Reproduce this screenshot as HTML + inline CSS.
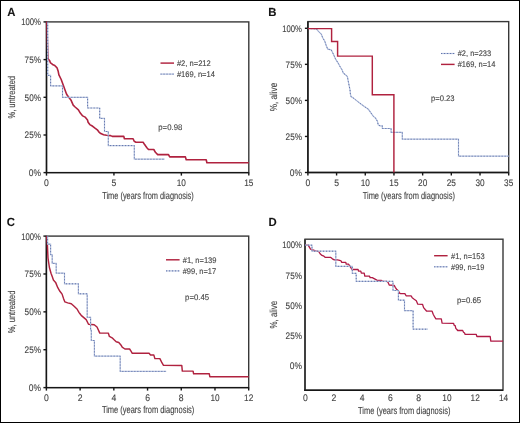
<!DOCTYPE html>
<html><head><meta charset="utf-8"><style>
html,body{margin:0;padding:0;background:#fff;}
svg{display:block;will-change:transform;}
text{font-family:"Liberation Sans", sans-serif;text-rendering:geometricPrecision;stroke:#444;stroke-width:0.12px;}
</style></head><body>
<svg width="520" height="423" viewBox="0 0 520 423">
<rect x="0" y="0" width="520" height="423" fill="#fff"/>
<rect x="0.5" y="0.5" width="519" height="422" fill="none" stroke="#000" stroke-width="1"/>
<text x="7.2" y="15.6" font-size="11.8" text-anchor="start" fill="#111" font-weight="bold" textLength="8.2" lengthAdjust="spacingAndGlyphs" >A</text>
<rect x="46.5" y="21.9" width="202.3" height="150.7" fill="none" stroke="#383838" stroke-width="1.4"/>
<path d="M46.5,21.9 V172.6 H248.8" fill="none" stroke="#161616" stroke-width="1.4"/>
<line x1="43.5" y1="21.9" x2="46.5" y2="21.9" stroke="#161616" stroke-width="1.4"/>
<text x="41" y="25.299999999999997" font-size="9.5" text-anchor="end" fill="#444444" font-weight="normal" textLength="19.8" lengthAdjust="spacingAndGlyphs" >100%</text>
<line x1="43.5" y1="59.6" x2="46.5" y2="59.6" stroke="#161616" stroke-width="1.4"/>
<text x="41" y="63.0" font-size="9.5" text-anchor="end" fill="#444444" font-weight="normal" textLength="16.4" lengthAdjust="spacingAndGlyphs" >75%</text>
<line x1="43.5" y1="97.3" x2="46.5" y2="97.3" stroke="#161616" stroke-width="1.4"/>
<text x="41" y="100.7" font-size="9.5" text-anchor="end" fill="#444444" font-weight="normal" textLength="16.4" lengthAdjust="spacingAndGlyphs" >50%</text>
<line x1="43.5" y1="135.0" x2="46.5" y2="135.0" stroke="#161616" stroke-width="1.4"/>
<text x="41" y="138.4" font-size="9.5" text-anchor="end" fill="#444444" font-weight="normal" textLength="16.4" lengthAdjust="spacingAndGlyphs" >25%</text>
<line x1="43.5" y1="172.6" x2="46.5" y2="172.6" stroke="#161616" stroke-width="1.4"/>
<text x="41" y="176.0" font-size="9.5" text-anchor="end" fill="#444444" font-weight="normal" textLength="12.2" lengthAdjust="spacingAndGlyphs" >0%</text>
<line x1="46.5" y1="172.6" x2="46.5" y2="175.6" stroke="#161616" stroke-width="1.4"/>
<text x="46.5" y="185.9" font-size="9.5" text-anchor="middle" fill="#444444" font-weight="normal" textLength="4.8" lengthAdjust="spacingAndGlyphs" >0</text>
<line x1="113.93333333333334" y1="172.6" x2="113.93333333333334" y2="175.6" stroke="#161616" stroke-width="1.4"/>
<text x="113.93333333333334" y="185.9" font-size="9.5" text-anchor="middle" fill="#444444" font-weight="normal" textLength="4.8" lengthAdjust="spacingAndGlyphs" >5</text>
<line x1="181.36666666666667" y1="172.6" x2="181.36666666666667" y2="175.6" stroke="#161616" stroke-width="1.4"/>
<text x="181.36666666666667" y="185.9" font-size="9.5" text-anchor="middle" fill="#444444" font-weight="normal" textLength="9.2" lengthAdjust="spacingAndGlyphs" >10</text>
<line x1="248.8" y1="172.6" x2="248.8" y2="175.6" stroke="#161616" stroke-width="1.4"/>
<text x="248.8" y="185.9" font-size="9.5" text-anchor="middle" fill="#444444" font-weight="normal" textLength="9.2" lengthAdjust="spacingAndGlyphs" >15</text>
<text x="0" y="0" font-size="9.9" text-anchor="middle" fill="#444444" textLength="42.5" lengthAdjust="spacingAndGlyphs" transform="translate(15.2,97.25) rotate(-90)">%, untreated</text>
<text x="148.0" y="198.6" font-size="10.1" text-anchor="middle" fill="#444444" textLength="91.60000000000001" lengthAdjust="spacingAndGlyphs">Time (years from diagnosis)</text>
<polyline points="46.5,21.7 46.9,22.5 47.4,41.6 48.0,58.2 48.6,59.6 49.5,60.3 50.4,62.8 51.8,63.7 52.5,64.6 54.8,65.5 55.3,66.1 57.0,67.8 58.2,71.3 58.9,74.9 61.2,79.5 63.3,85.2 65.2,90.4 66.6,94.2 68.5,97.0 70.9,99.9 73.2,105.1 75.1,107.0 78.4,109.8 80.3,113.1 82.7,115.9 85.1,117.1 87.5,120.0 88.1,122.3 89.8,124.6 92.7,126.3 95.0,128.1 97.3,129.8 99.0,132.1 100.8,133.6 103.6,134.8 106.5,135.3 110.6,135.6 112.3,136.4 123.8,136.4 124.4,138.7 133.1,138.7 134.2,141.3 135.9,142.2 143.1,142.3 144.6,144.6 146.9,147.7 148.5,149.5 153.8,149.5 155.4,152.3 157.7,154.6 168.5,154.6 169.7,156.9 185.4,156.9 186.2,159.7 206.2,159.7 206.9,162.8 248.8,162.8" fill="none" stroke="#b0223f" stroke-width="1.6" stroke-linejoin="round"/>
<path d="M47.7,21.9 V75.4 H50.6 V85.9 H62.5 V97.3 H87.6 V108 H99.7 V118.4 H104.5 V131.5 H108.3 V145.6 H134.3 V159.2 H164.6" fill="none" stroke="#b3bfdc" stroke-width="1.2"/>
<path d="M47.7,21.9 V75.4 H50.6 V85.9 H62.5 V97.3 H87.6 V108 H99.7 V118.4 H104.5 V131.5 H108.3 V145.6 H134.3 V159.2 H164.6" fill="none" stroke="#6074ac" stroke-width="1.0" stroke-dasharray="1.1 1.9"/>
<line x1="160.5" y1="63.1" x2="174" y2="63.1" stroke="#b0223f" stroke-width="1.45"/>
<text x="176.9" y="66.0" font-size="8.2" text-anchor="start" fill="#444444" font-weight="normal" textLength="33.9" lengthAdjust="spacingAndGlyphs" >#2, n=212</text>
<line x1="160.5" y1="74.1" x2="174" y2="74.1" stroke="#b3bfdc" stroke-width="1.2"/>
<line x1="160.5" y1="74.1" x2="174" y2="74.1" stroke="#6074ac" stroke-width="1.0" stroke-dasharray="1.1 1.9"/>
<text x="176.9" y="77.0" font-size="8.2" text-anchor="start" fill="#444444" font-weight="normal" textLength="38" lengthAdjust="spacingAndGlyphs" >#169, n=14</text>
<text x="158.3" y="130.2" font-size="8.2" text-anchor="start" fill="#444444" font-weight="normal" textLength="24" lengthAdjust="spacingAndGlyphs" >p=0.98</text>
<text x="268.3" y="15.8" font-size="11.8" text-anchor="start" fill="#111" font-weight="bold" textLength="8.2" lengthAdjust="spacingAndGlyphs" >B</text>
<rect x="307.9" y="21.6" width="200.8" height="150.9" fill="none" stroke="#383838" stroke-width="1.4"/>
<path d="M307.9,21.6 V172.5 H508.7" fill="none" stroke="#161616" stroke-width="1.4"/>
<line x1="304.9" y1="28.3" x2="307.9" y2="28.3" stroke="#161616" stroke-width="1.4"/>
<text x="302" y="31.7" font-size="9.5" text-anchor="end" fill="#444444" font-weight="normal" textLength="19.8" lengthAdjust="spacingAndGlyphs" >100%</text>
<line x1="304.9" y1="64.35" x2="307.9" y2="64.35" stroke="#161616" stroke-width="1.4"/>
<text x="302" y="67.75" font-size="9.5" text-anchor="end" fill="#444444" font-weight="normal" textLength="16.4" lengthAdjust="spacingAndGlyphs" >75%</text>
<line x1="304.9" y1="100.39999999999999" x2="307.9" y2="100.39999999999999" stroke="#161616" stroke-width="1.4"/>
<text x="302" y="103.8" font-size="9.5" text-anchor="end" fill="#444444" font-weight="normal" textLength="16.4" lengthAdjust="spacingAndGlyphs" >50%</text>
<line x1="304.9" y1="136.45" x2="307.9" y2="136.45" stroke="#161616" stroke-width="1.4"/>
<text x="302" y="139.85" font-size="9.5" text-anchor="end" fill="#444444" font-weight="normal" textLength="16.4" lengthAdjust="spacingAndGlyphs" >25%</text>
<line x1="304.9" y1="172.5" x2="307.9" y2="172.5" stroke="#161616" stroke-width="1.4"/>
<text x="302" y="175.9" font-size="9.5" text-anchor="end" fill="#444444" font-weight="normal" textLength="12.2" lengthAdjust="spacingAndGlyphs" >0%</text>
<line x1="307.9" y1="172.5" x2="307.9" y2="175.5" stroke="#161616" stroke-width="1.4"/>
<text x="307.9" y="185.8" font-size="9.5" text-anchor="middle" fill="#444444" font-weight="normal" textLength="4.8" lengthAdjust="spacingAndGlyphs" >0</text>
<line x1="336.5857142857143" y1="172.5" x2="336.5857142857143" y2="175.5" stroke="#161616" stroke-width="1.4"/>
<text x="336.5857142857143" y="185.8" font-size="9.5" text-anchor="middle" fill="#444444" font-weight="normal" textLength="4.8" lengthAdjust="spacingAndGlyphs" >5</text>
<line x1="365.27142857142854" y1="172.5" x2="365.27142857142854" y2="175.5" stroke="#161616" stroke-width="1.4"/>
<text x="365.27142857142854" y="185.8" font-size="9.5" text-anchor="middle" fill="#444444" font-weight="normal" textLength="9.2" lengthAdjust="spacingAndGlyphs" >10</text>
<line x1="393.95714285714286" y1="172.5" x2="393.95714285714286" y2="175.5" stroke="#161616" stroke-width="1.4"/>
<text x="393.95714285714286" y="185.8" font-size="9.5" text-anchor="middle" fill="#444444" font-weight="normal" textLength="9.2" lengthAdjust="spacingAndGlyphs" >15</text>
<line x1="422.6428571428571" y1="172.5" x2="422.6428571428571" y2="175.5" stroke="#161616" stroke-width="1.4"/>
<text x="422.6428571428571" y="185.8" font-size="9.5" text-anchor="middle" fill="#444444" font-weight="normal" textLength="9.2" lengthAdjust="spacingAndGlyphs" >20</text>
<line x1="451.3285714285714" y1="172.5" x2="451.3285714285714" y2="175.5" stroke="#161616" stroke-width="1.4"/>
<text x="451.3285714285714" y="185.8" font-size="9.5" text-anchor="middle" fill="#444444" font-weight="normal" textLength="9.2" lengthAdjust="spacingAndGlyphs" >25</text>
<line x1="480.01428571428573" y1="172.5" x2="480.01428571428573" y2="175.5" stroke="#161616" stroke-width="1.4"/>
<text x="480.01428571428573" y="185.8" font-size="9.5" text-anchor="middle" fill="#444444" font-weight="normal" textLength="9.2" lengthAdjust="spacingAndGlyphs" >30</text>
<line x1="508.7" y1="172.5" x2="508.7" y2="175.5" stroke="#161616" stroke-width="1.4"/>
<text x="508.7" y="185.8" font-size="9.5" text-anchor="middle" fill="#444444" font-weight="normal" textLength="9.2" lengthAdjust="spacingAndGlyphs" >35</text>
<text x="0" y="0" font-size="10.2" text-anchor="middle" fill="#444444" textLength="28.4" lengthAdjust="spacingAndGlyphs" transform="translate(277.4,97.05) rotate(-90)">%, alive</text>
<text x="408.85" y="198.6" font-size="10.1" text-anchor="middle" fill="#444444" textLength="92.30000000000001" lengthAdjust="spacingAndGlyphs">Time (years from diagnosis)</text>
<polyline points="307.9,28.5 316.3,28.8 318.4,31.3 321.3,34.2 322.7,37.7 324.8,41.3 326.2,45.5 327.7,49.1 331.2,49.8 333.3,54.0 335.6,59.1 338.0,62.8 340.0,66.5 342.1,69.9 343.3,73.1 345.4,74.7 347.4,76.6 348.0,80.0 349.2,85.9 350.0,89.8 350.4,93.9 351.0,96.6 353.3,98.0 355.7,99.9 358.4,102.1 360.2,103.4 364.3,106.5 368.4,109.3 370.9,112.8 373.2,116.2 375.6,118.2 377.5,121.5 378.2,124.8 380.0,125.8 382.3,125.8 382.3,128.5 391.1,128.5 391.1,132.3 402.3,132.3 402.3,139.2 458.5,139.2 458.5,156.2 508.7,156.2" fill="none" stroke="#b3bfdc" stroke-width="1.2"/>
<polyline points="307.9,28.5 316.3,28.8 318.4,31.3 321.3,34.2 322.7,37.7 324.8,41.3 326.2,45.5 327.7,49.1 331.2,49.8 333.3,54.0 335.6,59.1 338.0,62.8 340.0,66.5 342.1,69.9 343.3,73.1 345.4,74.7 347.4,76.6 348.0,80.0 349.2,85.9 350.0,89.8 350.4,93.9 351.0,96.6 353.3,98.0 355.7,99.9 358.4,102.1 360.2,103.4 364.3,106.5 368.4,109.3 370.9,112.8 373.2,116.2 375.6,118.2 377.5,121.5 378.2,124.8 380.0,125.8 382.3,125.8 382.3,128.5 391.1,128.5 391.1,132.3 402.3,132.3 402.3,139.2 458.5,139.2 458.5,156.2 508.7,156.2" fill="none" stroke="#6074ac" stroke-width="1.0" stroke-dasharray="1.1 1.9"/>
<path d="M307.9,28.6 H331.6 V41.4 H337.6 V56.1 H372.3 V94.8 H393.9 V172.5" fill="none" stroke="#b0223f" stroke-width="1.45"/>
<line x1="441" y1="53.5" x2="454.6" y2="53.5" stroke="#b3bfdc" stroke-width="1.2"/>
<line x1="441" y1="53.5" x2="454.6" y2="53.5" stroke="#6074ac" stroke-width="1.0" stroke-dasharray="1.1 1.9"/>
<text x="457.7" y="56.4" font-size="8.2" text-anchor="start" fill="#444444" font-weight="normal" textLength="33.5" lengthAdjust="spacingAndGlyphs" >#2, n=233</text>
<line x1="441" y1="64.4" x2="454.6" y2="64.4" stroke="#b0223f" stroke-width="1.45"/>
<text x="457.7" y="67.30000000000001" font-size="8.2" text-anchor="start" fill="#444444" font-weight="normal" textLength="37.7" lengthAdjust="spacingAndGlyphs" >#169, n=14</text>
<text x="431" y="100.6" font-size="8.2" text-anchor="start" fill="#444444" font-weight="normal" textLength="23.6" lengthAdjust="spacingAndGlyphs" >p=0.23</text>
<text x="6.8" y="226.4" font-size="11.8" text-anchor="start" fill="#111" font-weight="bold" textLength="8.2" lengthAdjust="spacingAndGlyphs" >C</text>
<rect x="46.4" y="236.1" width="202.29999999999998" height="151.50000000000003" fill="none" stroke="#383838" stroke-width="1.4"/>
<path d="M46.4,236.1 V387.6 H248.7" fill="none" stroke="#161616" stroke-width="1.4"/>
<line x1="43.4" y1="236.1" x2="46.4" y2="236.1" stroke="#161616" stroke-width="1.4"/>
<text x="41" y="239.5" font-size="9.5" text-anchor="end" fill="#444444" font-weight="normal" textLength="19.8" lengthAdjust="spacingAndGlyphs" >100%</text>
<line x1="43.4" y1="273.975" x2="46.4" y2="273.975" stroke="#161616" stroke-width="1.4"/>
<text x="41" y="277.375" font-size="9.5" text-anchor="end" fill="#444444" font-weight="normal" textLength="16.4" lengthAdjust="spacingAndGlyphs" >75%</text>
<line x1="43.4" y1="311.85" x2="46.4" y2="311.85" stroke="#161616" stroke-width="1.4"/>
<text x="41" y="315.25" font-size="9.5" text-anchor="end" fill="#444444" font-weight="normal" textLength="16.4" lengthAdjust="spacingAndGlyphs" >50%</text>
<line x1="43.4" y1="349.725" x2="46.4" y2="349.725" stroke="#161616" stroke-width="1.4"/>
<text x="41" y="353.125" font-size="9.5" text-anchor="end" fill="#444444" font-weight="normal" textLength="16.4" lengthAdjust="spacingAndGlyphs" >25%</text>
<line x1="43.4" y1="387.6" x2="46.4" y2="387.6" stroke="#161616" stroke-width="1.4"/>
<text x="41" y="391.0" font-size="9.5" text-anchor="end" fill="#444444" font-weight="normal" textLength="12.2" lengthAdjust="spacingAndGlyphs" >0%</text>
<line x1="46.4" y1="387.6" x2="46.4" y2="390.6" stroke="#161616" stroke-width="1.4"/>
<text x="46.4" y="400.90000000000003" font-size="9.5" text-anchor="middle" fill="#444444" font-weight="normal" textLength="4.8" lengthAdjust="spacingAndGlyphs" >0</text>
<line x1="80.11666666666666" y1="387.6" x2="80.11666666666666" y2="390.6" stroke="#161616" stroke-width="1.4"/>
<text x="80.11666666666666" y="400.90000000000003" font-size="9.5" text-anchor="middle" fill="#444444" font-weight="normal" textLength="4.8" lengthAdjust="spacingAndGlyphs" >2</text>
<line x1="113.83333333333331" y1="387.6" x2="113.83333333333331" y2="390.6" stroke="#161616" stroke-width="1.4"/>
<text x="113.83333333333331" y="400.90000000000003" font-size="9.5" text-anchor="middle" fill="#444444" font-weight="normal" textLength="4.8" lengthAdjust="spacingAndGlyphs" >4</text>
<line x1="147.54999999999998" y1="387.6" x2="147.54999999999998" y2="390.6" stroke="#161616" stroke-width="1.4"/>
<text x="147.54999999999998" y="400.90000000000003" font-size="9.5" text-anchor="middle" fill="#444444" font-weight="normal" textLength="4.8" lengthAdjust="spacingAndGlyphs" >6</text>
<line x1="181.26666666666665" y1="387.6" x2="181.26666666666665" y2="390.6" stroke="#161616" stroke-width="1.4"/>
<text x="181.26666666666665" y="400.90000000000003" font-size="9.5" text-anchor="middle" fill="#444444" font-weight="normal" textLength="4.8" lengthAdjust="spacingAndGlyphs" >8</text>
<line x1="214.98333333333332" y1="387.6" x2="214.98333333333332" y2="390.6" stroke="#161616" stroke-width="1.4"/>
<text x="214.98333333333332" y="400.90000000000003" font-size="9.5" text-anchor="middle" fill="#444444" font-weight="normal" textLength="9.2" lengthAdjust="spacingAndGlyphs" >10</text>
<line x1="248.69999999999996" y1="387.6" x2="248.69999999999996" y2="390.6" stroke="#161616" stroke-width="1.4"/>
<text x="248.69999999999996" y="400.90000000000003" font-size="9.5" text-anchor="middle" fill="#444444" font-weight="normal" textLength="9.2" lengthAdjust="spacingAndGlyphs" >12</text>
<text x="0" y="0" font-size="9.9" text-anchor="middle" fill="#444444" textLength="42.6" lengthAdjust="spacingAndGlyphs" transform="translate(15.2,311.85) rotate(-90)">%, untreated</text>
<text x="148.10000000000002" y="413.3" font-size="10.1" text-anchor="middle" fill="#444444" textLength="92.4" lengthAdjust="spacingAndGlyphs">Time (years from diagnosis)</text>
<polyline points="46.6,236.1 47.4,245.0 48.0,258.0 49.4,267.5 51.0,273.3 52.4,277.0 53.4,280.0 55.6,282.4 57.8,287.7 59.9,291.3 62.1,294.1 63.5,298.4 64.9,301.9 67.7,302.9 71.3,303.8 74.1,306.2 77.0,309.0 79.1,312.6 80.0,313.8 81.2,315.4 83.8,317.6 86.2,319.6 88.5,324.2 94.2,324.7 97.0,327.0 99.8,333.1 108.3,333.1 109.4,336.4 112.1,337.8 114.1,339.8 116.2,341.8 118.8,342.5 120.9,344.9 122.2,347.2 124.9,349.0 129.6,349.0 131.0,351.2 132.3,353.3 149.1,353.3 150.5,354.9 153.8,354.9 154.9,358.6 159.9,358.6 161.9,362.7 163.5,365.4 181.8,365.5 182.3,371.1 193.1,371.1 193.6,373.8 209.3,373.8 209.8,376.7 248.7,376.7" fill="none" stroke="#b0223f" stroke-width="1.45" stroke-linejoin="round"/>
<path d="M47.6,236.1 V244.2 H50.6 V254.6 H52.2 V263.4 H56.2 V273.2 H64.5 V283.8 H78.4 V293.8 H87.2 V317.3 H90.6 V330 H91.3 V340.5 H94.4 V356.1 H120.2 V371.4 H166.2" fill="none" stroke="#b3bfdc" stroke-width="1.2"/>
<path d="M47.6,236.1 V244.2 H50.6 V254.6 H52.2 V263.4 H56.2 V273.2 H64.5 V283.8 H78.4 V293.8 H87.2 V317.3 H90.6 V330 H91.3 V340.5 H94.4 V356.1 H120.2 V371.4 H166.2" fill="none" stroke="#6074ac" stroke-width="1.0" stroke-dasharray="1.1 1.9"/>
<line x1="166" y1="259.8" x2="179.6" y2="259.8" stroke="#b0223f" stroke-width="1.45"/>
<text x="182.7" y="262.7" font-size="8.2" text-anchor="start" fill="#444444" font-weight="normal" textLength="33.8" lengthAdjust="spacingAndGlyphs" >#1, n=139</text>
<line x1="166" y1="270.9" x2="179.6" y2="270.9" stroke="#b3bfdc" stroke-width="1.2"/>
<line x1="166" y1="270.9" x2="179.6" y2="270.9" stroke="#6074ac" stroke-width="1.0" stroke-dasharray="1.1 1.9"/>
<text x="182.7" y="273.79999999999995" font-size="8.2" text-anchor="start" fill="#444444" font-weight="normal" textLength="33.5" lengthAdjust="spacingAndGlyphs" >#99, n=17</text>
<text x="185.1" y="300.4" font-size="8.2" text-anchor="start" fill="#444444" font-weight="normal" textLength="24.1" lengthAdjust="spacingAndGlyphs" >p=0.45</text>
<text x="268.6" y="226" font-size="11.8" text-anchor="start" fill="#111" font-weight="bold" textLength="8.2" lengthAdjust="spacingAndGlyphs" >D</text>
<rect x="305.0" y="239.2" width="198.0" height="151.0" fill="none" stroke="#383838" stroke-width="1.4"/>
<path d="M305.0,239.2 V390.2" fill="none" stroke="#3a3a3a" stroke-width="1.8"/>
<path d="M304.1,390.2 H503.0" fill="none" stroke="#161616" stroke-width="1.5"/>
<text x="302" y="248.4" font-size="9.5" text-anchor="end" fill="#444444" font-weight="normal" textLength="19.8" lengthAdjust="spacingAndGlyphs" >100%</text>
<text x="302" y="278.59999999999997" font-size="9.5" text-anchor="end" fill="#444444" font-weight="normal" textLength="16.4" lengthAdjust="spacingAndGlyphs" >75%</text>
<text x="302" y="308.79999999999995" font-size="9.5" text-anchor="end" fill="#444444" font-weight="normal" textLength="16.4" lengthAdjust="spacingAndGlyphs" >50%</text>
<text x="302" y="339.0" font-size="9.5" text-anchor="end" fill="#444444" font-weight="normal" textLength="16.4" lengthAdjust="spacingAndGlyphs" >25%</text>
<text x="302" y="369.2" font-size="9.5" text-anchor="end" fill="#444444" font-weight="normal" textLength="12.2" lengthAdjust="spacingAndGlyphs" >0%</text>
<text x="305.5" y="400.8" font-size="9.5" text-anchor="middle" fill="#444444" font-weight="normal" textLength="4.8" lengthAdjust="spacingAndGlyphs" >0</text>
<text x="333.7857142857143" y="400.8" font-size="9.5" text-anchor="middle" fill="#444444" font-weight="normal" textLength="4.8" lengthAdjust="spacingAndGlyphs" >2</text>
<text x="362.07142857142856" y="400.8" font-size="9.5" text-anchor="middle" fill="#444444" font-weight="normal" textLength="4.8" lengthAdjust="spacingAndGlyphs" >4</text>
<text x="390.3571428571429" y="400.8" font-size="9.5" text-anchor="middle" fill="#444444" font-weight="normal" textLength="4.8" lengthAdjust="spacingAndGlyphs" >6</text>
<text x="418.6428571428571" y="400.8" font-size="9.5" text-anchor="middle" fill="#444444" font-weight="normal" textLength="4.8" lengthAdjust="spacingAndGlyphs" >8</text>
<text x="446.92857142857144" y="400.8" font-size="9.5" text-anchor="middle" fill="#444444" font-weight="normal" textLength="9.2" lengthAdjust="spacingAndGlyphs" >10</text>
<text x="475.2142857142857" y="400.8" font-size="9.5" text-anchor="middle" fill="#444444" font-weight="normal" textLength="9.2" lengthAdjust="spacingAndGlyphs" >12</text>
<text x="503.5" y="400.8" font-size="9.5" text-anchor="middle" fill="#444444" font-weight="normal" textLength="9.2" lengthAdjust="spacingAndGlyphs" >14</text>
<text x="0" y="0" font-size="10.2" text-anchor="middle" fill="#444444" textLength="27.6" lengthAdjust="spacingAndGlyphs" transform="translate(277.3,314.7) rotate(-90)">%, alive</text>
<text x="404.2" y="413.5" font-size="10.1" text-anchor="middle" fill="#444444" textLength="92.39999999999998" lengthAdjust="spacingAndGlyphs">Time (years from diagnosis)</text>
<polyline points="305.1,245.2 308.2,245.2 310.5,249.1 312.8,249.8 315.5,250.8 318.9,251.7 320.1,253.8 322.0,255.4 323.9,256.2 325.1,257.3 330.5,257.3 332.4,258.8 334.3,259.8 337.4,259.8 339.7,260.4 341.2,261.0 341.6,262.3 345.8,262.3 346.2,264.2 348.5,264.2 351.5,268.7 352.2,269.5 358.1,269.5 358.6,271.2 360.8,271.2 361.3,273.1 364.2,273.1 364.8,276.2 369.6,276.2 370.1,277.7 372.3,277.7 376.9,280.1 378.0,280.4 381.5,280.4 382.6,281.3 386.5,281.3 388.0,282.3 389.2,285.0 394.2,285.4 395.3,287.3 396.8,289.6 398.4,290.8 399.5,293.1 400.7,293.6 404.9,293.6 406.1,295.8 411.1,295.9 412.2,297.7 414.2,299.2 416.3,300.7 417.8,304.2 422.5,304.3 423.6,307.6 425.2,309.5 426.7,311.2 432.1,311.2 433.2,314.2 434.8,317.2 435.9,318.8 441.3,318.8 442.1,323.2 453.5,323.3 454.2,325.3 455.2,325.7 455.8,328.4 456.9,329.5 457.7,330.5 462.7,330.5 463.5,332.2 464.6,333.0 465.0,334.3 476.2,334.3 476.9,336.5 490.2,336.5 490.8,341.2 503.0,341.2" fill="none" stroke="#b01a45" stroke-width="1.3" stroke-linejoin="round"/>
<path d="M305,245.2 H312 V251.2 H335.8 V266.3 H352.3 V273.3 H356.2 V281.3 H393 V290.5 H398.4 V300.2 H404.5 V310.7 H413.1 V329.2 H427.9" fill="none" stroke="#b3bfdc" stroke-width="1.2"/>
<path d="M305,245.2 H312 V251.2 H335.8 V266.3 H352.3 V273.3 H356.2 V281.3 H393 V290.5 H398.4 V300.2 H404.5 V310.7 H413.1 V329.2 H427.9" fill="none" stroke="#6074ac" stroke-width="1.0" stroke-dasharray="1.1 1.9"/>
<line x1="434.1" y1="255.7" x2="447.6" y2="255.7" stroke="#b0223f" stroke-width="1.45"/>
<text x="451" y="258.59999999999997" font-size="8.2" text-anchor="start" fill="#444444" font-weight="normal" textLength="33.6" lengthAdjust="spacingAndGlyphs" >#1, n=153</text>
<line x1="434.1" y1="266.8" x2="447.6" y2="266.8" stroke="#b3bfdc" stroke-width="1.2"/>
<line x1="434.1" y1="266.8" x2="447.6" y2="266.8" stroke="#6074ac" stroke-width="1.0" stroke-dasharray="1.1 1.9"/>
<text x="451" y="269.7" font-size="8.2" text-anchor="start" fill="#444444" font-weight="normal" textLength="33.3" lengthAdjust="spacingAndGlyphs" >#99, n=19</text>
<text x="457" y="303.2" font-size="8.2" text-anchor="start" fill="#444444" font-weight="normal" textLength="24.2" lengthAdjust="spacingAndGlyphs" >p=0.65</text>
</svg>
</body></html>
